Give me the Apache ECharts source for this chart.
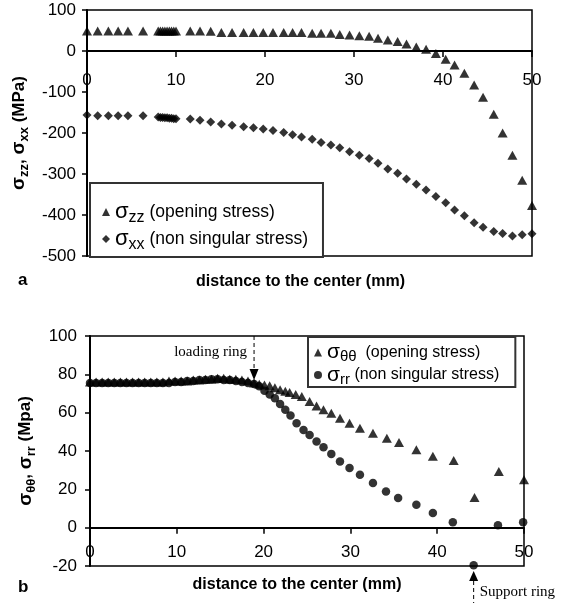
<!DOCTYPE html>
<html>
<head>
<meta charset="utf-8">
<script src="https://cdn.jsdelivr.net/npm/echarts@6/dist/echarts.min.js"></script>
<style>
  html, body { margin: 0; padding: 0; background: #fff; }
  #chart { width: 561px; height: 603px; }
</style>
</head>
<body>
<div id="chart"></div>
<script>
// panel a: distance (mm) and stresses (MPa)
const aDist = [0, 1.2, 2.4, 3.5, 4.6, 6.3, 8.0, 8.25, 8.5, 8.75, 9.0, 9.25, 9.5, 9.75, 10.0,
  11.6, 12.7, 13.9, 15.1, 16.3, 17.6, 18.7, 19.8, 20.9, 22.1, 23.1,
  24.1, 25.3, 26.3, 27.4, 28.4, 29.5, 30.6, 31.7, 32.7, 33.8, 34.9, 35.9, 37.0, 38.1, 39.2,
  40.3, 41.3, 42.4, 43.5, 44.5, 45.7, 46.7, 47.8, 48.9, 50.0];
const aZZ = [49, 49, 49, 49, 49, 49, 49, 49, 49, 49, 49, 49, 49, 49, 49,
  49, 49, 48, 45, 45, 45, 45, 45, 45, 45, 45,
  45, 43, 43, 43, 40, 39, 37, 36, 31, 27, 23, 17, 10, 4, -6,
  -20, -34, -54, -83, -113, -154, -200, -254, -315, -377];
const aXX = [-156, -158, -158, -158, -158, -158, -161, -162, -162, -163, -163, -164, -164, -165, -165,
  -166, -169, -173, -178, -181, -185, -187, -190, -194, -199, -204,
  -210, -215, -223, -229, -236, -246, -254, -262, -274, -288, -298, -312, -325, -339, -355,
  -370, -388, -402, -419, -430, -440, -445, -451, -448, -446];

// panel b
const bThetaDist = [0, 0.7, 1.4, 2.1, 2.8, 3.5, 4.2, 4.9, 5.6, 6.3, 7.0, 7.7, 8.4, 9.1, 9.8,
  10.5, 11.2, 11.9, 12.6, 13.3, 14.0, 14.7, 15.4, 16.1, 16.8, 17.5, 18.2, 18.9,
  19.5, 20.1, 20.7, 21.3, 21.9, 22.5, 23.0, 23.7, 24.4, 25.3, 26.1, 26.9, 27.8, 28.8,
  29.9, 31.1, 32.6, 34.2, 35.6, 37.6, 39.5, 41.9, 44.3, 47.1, 50.0];
const bTheta = [76, 76, 76, 76, 76, 76, 76, 76, 76, 76, 76, 76, 76, 76.5, 76.5,
  76.5, 76.5, 77, 77, 77.5, 77.5, 78, 78, 77.5, 77.5, 77, 76.5, 75.5,
  74.8, 74.4, 74, 73, 72, 71.2, 70.5, 69.5, 68.4, 65.8, 63.5, 61.5, 59.7, 57.1,
  54.5, 51.9, 49.3, 46.7, 44.4, 40.6, 37.2, 35.1, 15.8, 29.3, 25.0];
const bRrDist = [0, 0.7, 1.4, 2.1, 2.8, 3.5, 4.2, 4.9, 5.6, 6.3, 7.0, 7.7, 8.4, 9.1, 9.8,
  10.5, 11.2, 11.9, 12.6, 13.3, 14.0, 14.7, 15.4, 16.1, 16.8, 17.5, 18.2, 18.9,
  19.5, 20.1, 20.7, 21.3, 21.9, 22.5, 23.1, 23.8, 24.6, 25.3, 26.1, 26.9, 27.8, 28.8,
  29.9, 31.1, 32.6, 34.1, 35.5, 37.6, 39.5, 41.8, 44.2, 47.0, 49.9];
const bRr = [75.5, 75.5, 75.5, 75.5, 75.5, 75.5, 75.5, 75.5, 75.5, 75.5, 75.5, 75.5, 75.5, 75.5, 76,
  76, 76.5, 76.5, 77, 77, 77.5, 77.5, 77, 77, 76.5, 76, 75.5, 75,
  73.8, 71.5, 69.5, 67.5, 64.5, 61.5, 58.5, 54.5, 51, 48.4, 44.9, 42.0, 38.5, 34.5,
  31.1, 27.6, 23.3, 18.9, 15.5, 12.0, 7.7, 2.8, -19.6, 1.2, 2.8];

const loadingRingX = 18.9;
const supportRingX = 44.2;

const zip = (xs, ys) => xs.map((x, i) => [x, ys[i]]);

const FONT = 'Liberation Sans';
const SERIF = 'Liberation Serif';

const legendNames = {
  zz: '{s|σ}{sub|zz}{t| (opening stress)}',
  xx: '{s|σ}{sub|xx}{t| (non singular stress)}',
  tt: '{s|σ}{sub|θθ}{t|  (opening stress)}',
  rr: '{s|σ}{sub|rr}{t| (non singular stress)}',
};

const legendRich = (big, small, txt, lh) => ({
  s: { fontFamily: FONT, fontSize: big, color: '#000', lineHeight: lh },
  sub: { fontFamily: FONT, fontSize: small, color: '#000', verticalAlign: 'bottom' },
  t: { fontFamily: FONT, fontSize: txt, color: '#000' },
});

const axisCommon = {
  axisLine: { show: true, onZero: false, lineStyle: { color: '#000', width: 2 } },
  axisTick: { show: true, inside: false, length: 6, lineStyle: { color: '#000', width: 1.5 } },
  splitLine: { show: false },
};

const yNameRich = {
  s: { fontFamily: FONT, fontSize: 19, fontWeight: 'bold', color: '#000', lineHeight: 24 },
  sub: { fontFamily: FONT, fontSize: 13, fontWeight: 'bold', color: '#000', verticalAlign: 'bottom' },
  n: { fontFamily: FONT, fontSize: 17, fontWeight: 'bold', color: '#000' },
};

const chart = echarts.init(document.getElementById('chart'));

chart.setOption({
  animation: false,
  backgroundColor: '#fff',
  grid: [
    { left: 87, top: 10, width: 445, height: 246, show: true, borderColor: '#000', borderWidth: 1.5 },
    { left: 90, top: 336, width: 434, height: 230, show: true, borderColor: '#000', borderWidth: 1.5 },
  ],
  xAxis: [
    Object.assign({}, axisCommon, {
      gridIndex: 0, type: 'value', min: 0, max: 50, interval: 10, position: 'bottom',
      axisLabel: { fontFamily: FONT, fontSize: 17, color: '#000', margin: 21 },
    }),
    Object.assign({}, axisCommon, {
      gridIndex: 1, type: 'value', min: 0, max: 50, interval: 10, position: 'bottom',
      axisLabel: { fontFamily: FONT, fontSize: 17, color: '#000', margin: 16 },
    }),
  ],
  yAxis: [
    Object.assign({}, axisCommon, {
      gridIndex: 0, type: 'value', min: -500, max: 100, interval: 100,
      axisTick: { show: true, length: 5, lineStyle: { color: '#000', width: 1.5 } },
      axisLabel: { fontFamily: FONT, fontSize: 17, color: '#000', margin: 11 },
      name: '{s|σ}{sub|zz}{n|, }{s|σ}{sub|xx}{n| (MPa)}',
      nameLocation: 'middle', nameRotate: 90, nameGap: 53,
      nameTextStyle: { rich: yNameRich },
    }),
    Object.assign({}, axisCommon, {
      gridIndex: 1, type: 'value', min: -20, max: 100, interval: 20,
      axisTick: { show: true, length: 5, lineStyle: { color: '#000', width: 1.5 } },
      axisLabel: { fontFamily: FONT, fontSize: 17, color: '#000', margin: 13 },
      name: '{s|σ}{sub|θθ}{n|, }{s|σ}{sub|rr}{n| (Mpa)}',
      nameLocation: 'middle', nameRotate: 90, nameGap: 48,
      nameTextStyle: { rich: yNameRich },
    }),
  ],
  legend: [
    {
      left: 90, top: 183, orient: 'vertical',
      padding: [18, 15, 4, 12], itemGap: 2, itemWidth: 8, itemHeight: 8,
      borderColor: '#333', borderWidth: 2, backgroundColor: '#fff',
      data: [{ name: 'zz', icon: 'triangle' }, { name: 'xx', icon: 'diamond' }],
      formatter: (n) => legendNames[n],
      textStyle: { rich: legendRich(22, 16, 17.5, 28) },
    },
    {
      left: 308, top: 337, orient: 'vertical',
      padding: [5, 16, 0, 6], itemGap: 0, itemWidth: 8, itemHeight: 8,
      borderColor: '#333', borderWidth: 2, backgroundColor: '#fff',
      data: [{ name: 'tt', icon: 'triangle' }, { name: 'rr', icon: 'circle' }],
      formatter: (n) => legendNames[n],
      textStyle: { rich: legendRich(21, 15, 16, 24) },
    },
  ],
  series: [
    {
      name: 'zz', type: 'scatter', xAxisIndex: 0, yAxisIndex: 0,
      symbol: 'triangle', symbolSize: [10, 9], itemStyle: { color: '#000' },
      data: zip(aDist, aZZ),
    },
    {
      name: 'xx', type: 'scatter', xAxisIndex: 0, yAxisIndex: 0,
      symbol: 'diamond', symbolSize: 9, itemStyle: { color: '#000' },
      data: zip(aDist, aXX),
    },
    {
      name: 'tt', type: 'scatter', xAxisIndex: 1, yAxisIndex: 1,
      symbol: 'triangle', symbolSize: [10, 9], itemStyle: { color: '#000' },
      data: zip(bThetaDist, bTheta),
    },
    {
      name: 'rr', type: 'scatter', xAxisIndex: 1, yAxisIndex: 1, clip: false,
      symbol: 'circle', symbolSize: 8.5, itemStyle: { color: '#000' },
      data: zip(bRrDist, bRr),
    },
  ],
});

// move each x axis up so it crosses the y axis at 0
const aZero = chart.convertToPixel({ gridIndex: 0 }, [0, 0]);
const aBottom = chart.convertToPixel({ gridIndex: 0 }, [0, -500]);
const bZero = chart.convertToPixel({ gridIndex: 1 }, [0, 0]);
const bBottom = chart.convertToPixel({ gridIndex: 1 }, [0, -20]);
chart.setOption({
  xAxis: [{ offset: aZero[1] - aBottom[1] }, { offset: bZero[1] - bBottom[1] }],
});

// annotations placed from data coordinates
const lTop = chart.convertToPixel({ gridIndex: 1 }, [loadingRingX, 100]);
const lTip = chart.convertToPixel({ gridIndex: 1 }, [loadingRingX, 77]);
const sDot = chart.convertToPixel({ gridIndex: 1 }, [supportRingX, -20]);
const aMid = chart.convertToPixel({ gridIndex: 0 }, [25, -500]);
const bMid = chart.convertToPixel({ gridIndex: 1 }, [25, -20]);

const dashed = { stroke: '#000', lineWidth: 1, lineDash: [4, 3] };

chart.setOption({
  graphic: [
    { type: 'text', left: 18, top: aMid[1] + 16,
      style: { text: 'a', font: 'bold 17px ' + FONT, fill: '#000' } },
    { type: 'text', x: aMid[0] - 9, y: aMid[1] + 26,
      style: { text: 'distance to the center (mm)', font: 'bold 16px ' + FONT, fill: '#000',
        textAlign: 'center', textVerticalAlign: 'middle' } },
    { type: 'text', left: 18, top: bMid[1] + 13,
      style: { text: 'b', font: 'bold 17px ' + FONT, fill: '#000' } },
    { type: 'text', x: bMid[0] - 10, y: bMid[1] + 19,
      style: { text: 'distance to the center (mm)', font: 'bold 16px ' + FONT, fill: '#000',
        textAlign: 'center', textVerticalAlign: 'middle' } },
    // loading ring
    { type: 'line', shape: { x1: lTop[0], y1: lTop[1], x2: lTip[0], y2: lTip[1] - 11 }, style: dashed },
    { type: 'polygon', shape: { points: [[lTip[0] - 4.5, lTip[1] - 11], [lTip[0] + 4.5, lTip[1] - 11], [lTip[0], lTip[1]]] },
      style: { fill: '#000' } },
    { type: 'text', x: lTop[0] - 7, y: lTop[1] + 16,
      style: { text: 'loading ring', font: '15px ' + SERIF, fill: '#000', textAlign: 'right', textVerticalAlign: 'middle' } },
    // support ring
    { type: 'polygon', shape: { points: [[sDot[0] - 4.5, sDot[1] + 15], [sDot[0] + 4.5, sDot[1] + 15], [sDot[0], sDot[1] + 5]] },
      style: { fill: '#000' } },
    { type: 'line', shape: { x1: sDot[0], y1: sDot[1] + 15, x2: sDot[0], y2: 603 }, style: dashed },
    { type: 'text', x: sDot[0] + 6, y: sDot[1] + 26,
      style: { text: 'Support ring', font: '15px ' + SERIF, fill: '#000', textAlign: 'left', textVerticalAlign: 'middle' } },
  ],
});
</script>
</body>
</html>
